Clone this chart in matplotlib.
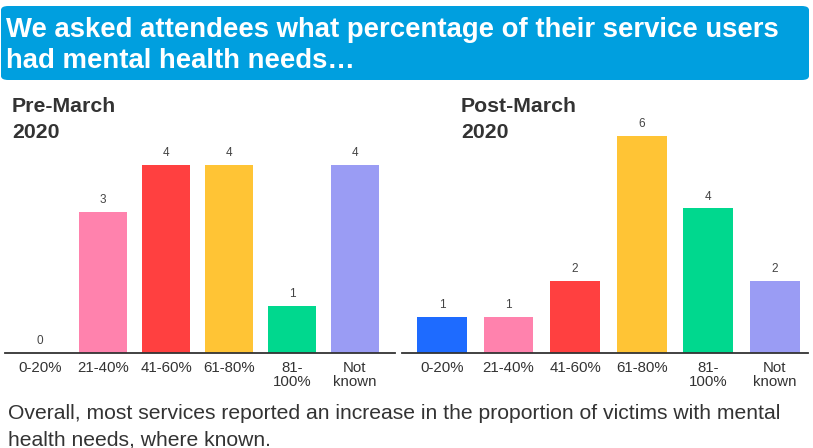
import matplotlib
matplotlib.use("Agg")
import matplotlib.pyplot as plt
from matplotlib.patches import FancyBboxPatch

# ---- data ----
categories = ["0-20%", "21-40%", "41-60%", "61-80%", "81-\n100%", "Not\nknown"]
pre_values = [0, 3, 4, 4, 1, 4]
post_values = [1, 1, 2, 6, 4, 2]
bar_colors = ["#1E6BFF", "#FF82AD", "#FF4040", "#FFC435", "#00D88E", "#9A9CF4"]
title_text = "We asked attendees what percentage of their service users\nhad mental health needs\u2026"
pre_title = "Pre-March\n2020"
post_title = "Post-March\n2020"
footer_text = ("Overall, most services reported an increase in the proportion of victims with mental\n"
               "health needs, where known.")

W, H = 813, 448
fig = plt.figure(figsize=(W / 100, H / 100), dpi=100)
fig.patch.set_facecolor("white")

base = "Liberation Sans"

def fx(px):
    return px / W

def fy(py):
    return 1 - py / H

# banner
banner = FancyBboxPatch((fx(1), fy(80)), fx(808), (80 - 6) / H,
                        boxstyle="round,pad=0,rounding_size=0.009",
                        transform=fig.transFigure, facecolor="#009FDF",
                        edgecolor="none", zorder=0)
fig.patches.append(banner)
fig.text(fx(6), fy(37), title_text.split("\n")[0], color="white", fontsize=19.8,
         fontweight="bold", family=base, va="baseline", ha="left")
fig.text(fx(6), fy(68), title_text.split("\n")[1], color="white", fontsize=19.8,
         fontweight="bold", family=base, va="baseline", ha="left")

def make_axes(left_px, right_px, base_px, top_px, xlim, ylim, values, width):
    ax = fig.add_axes([fx(left_px), fy(base_px), fx(right_px - left_px),
                       (base_px - top_px) / H])
    x = list(range(len(categories)))
    ax.bar(x, values, width=width, color=bar_colors, zorder=2)
    for xi, v in zip(x, values):
        ax.annotate(str(v), (xi, v), xytext=(0, 4), textcoords="offset points",
                    ha="center", va="bottom", fontsize=8.5, color="#444444",
                    family=base)
    ax.set_xlim(*xlim)
    ax.set_ylim(*ylim)
    ax.set_xticks(x)
    ax.set_xticklabels(categories, fontsize=10.8, color="#333333", family=base,
                       linespacing=1.0)
    ax.tick_params(axis="x", length=0, pad=5.5)
    ax.set_yticks([])
    for s in ["top", "right", "left"]:
        ax.spines[s].set_visible(False)
    ax.spines["bottom"].set_color("#333333")
    ax.spines["bottom"].set_linewidth(1.3)
    ax.patch.set_alpha(0)
    return ax

# left: unit 47 px, baseline 353
make_axes(5, 395, 353, 353 - 4.6 * 47, (-0.556, 5.635), (0, 4.6), pre_values, 0.76)
# right: unit 36.2 px
make_axes(402, 808, 353, 353 - 6.6 * 36.2, (-0.6, 5.5), (0, 6.6), post_values, 0.75)

for xpx, t in [(12, pre_title), (461, post_title)]:
    l1, l2 = t.split("\n")
    fig.text(fx(xpx), fy(112), l1, fontsize=15.3, fontweight="bold",
             color="#333333", family=base, va="baseline", ha="left")
    fig.text(fx(xpx), fy(138), l2, fontsize=15.3, fontweight="bold",
             color="#333333", family=base, va="baseline", ha="left")

fig.text(fx(8), fy(419), footer_text.split("\n")[0], fontsize=15.2, color="#333333",
         family=base, va="baseline", ha="left")
fig.text(fx(8), fy(445), footer_text.split("\n")[1], fontsize=15.2, color="#333333",
         family=base, va="baseline", ha="left")

fig.savefig("out.png", dpi=100)
